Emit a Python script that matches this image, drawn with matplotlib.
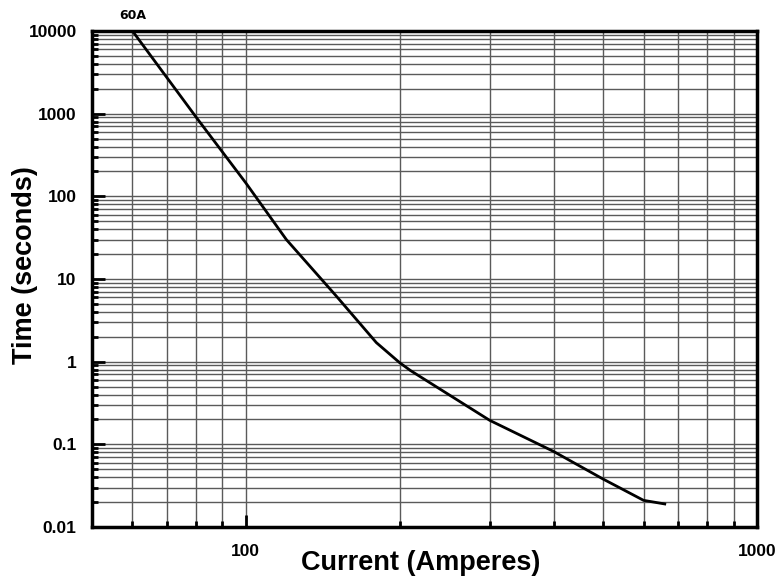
import numpy as np
import matplotlib
matplotlib.use("Agg")
import matplotlib.pyplot as plt
from matplotlib.ticker import FixedLocator, NullFormatter, FixedFormatter

# Data
current_amps = [60, 80, 100, 120, 150, 180, 200, 210, 300, 400, 500, 600, 660]
time_seconds = [10000, 900, 145, 30, 6.3, 1.7, 0.97, 0.78, 0.195, 0.082, 0.038, 0.021, 0.019]
curve_label = "60A"
x_major = [100, 1000]
x_major_labels = ["100", "1000"]
y_major = [0.01, 0.1, 1, 10, 100, 1000, 10000]
y_major_labels = ["0.01", "0.1", "1", "10", "100", "1000", "10000"]

W, H = 776, 580
fig = plt.figure(figsize=(W/100, H/100), dpi=100)
ax = fig.add_axes([92/W, 1-527/H, (757-92)/W, (527-31)/H])
ax.set_xscale("log")
ax.set_yscale("log")
ax.set_xlim(50, 1000)
ax.set_ylim(0.01, 10000)

grid_kw = dict(color="#5a5a5a", lw=1.0, zorder=1)
# vertical grid
for dec in [10, 100]:
    for m in range(2, 10):
        v = m * dec
        if 50 < v < 1000:
            ax.axvline(v, **grid_kw)
ax.axvline(100, **grid_kw)
# horizontal grid
for e in range(-2, 4):
    for m in range(1, 10):
        v = m * 10.0**e
        if 0.01 < v < 10000:
            ax.axhline(v, **grid_kw)

ax.plot(current_amps, time_seconds, color="black", lw=2.0, zorder=3)
ax.text(60, 10000 * 1.3, curve_label, ha="center", va="bottom",
        fontsize=9, fontweight="bold", family="DejaVu Sans")

for s in ax.spines.values():
    s.set_linewidth(2.5)
    s.set_color("black")
    s.set_zorder(4)

ax.xaxis.set_major_locator(FixedLocator(x_major))
ax.xaxis.set_major_formatter(FixedFormatter(x_major_labels))
xminor = [m * d for d in [10, 100] for m in range(2, 10) if 50 < m * d < 1000]
ax.xaxis.set_minor_locator(FixedLocator(xminor))
ax.xaxis.set_minor_formatter(NullFormatter())
ax.yaxis.set_major_locator(FixedLocator(y_major))
ax.yaxis.set_major_formatter(FixedFormatter(y_major_labels))
yminor = [m * 10.0**e for e in range(-2, 4) for m in range(2, 10)]
ax.yaxis.set_minor_locator(FixedLocator(yminor))
ax.yaxis.set_minor_formatter(NullFormatter())

ax.tick_params(axis="both", which="major", direction="in", length=9, width=2,
               labelsize=12.5, pad=11, top=False, right=False)
ax.tick_params(axis="both", which="minor", direction="in", length=4.5, width=2,
               top=False, right=False)
ax.tick_params(axis="x", which="major", pad=12)
for lbl in ax.get_xticklabels() + ax.get_yticklabels():
    lbl.set_fontweight("bold")
    lbl.set_family("Liberation Sans")

fig.text(421/W, 1-563/H, "Current (Amperes)", fontsize=19.5, fontweight="bold",
         family="Liberation Sans", ha="center", va="center")
fig.text(25/W, 1-265/H, "Time (seconds)", fontsize=19.5, fontweight="bold",
         family="Liberation Sans", ha="center", va="center", rotation=90)

fig.savefig("out.png", dpi=100, facecolor="white")
